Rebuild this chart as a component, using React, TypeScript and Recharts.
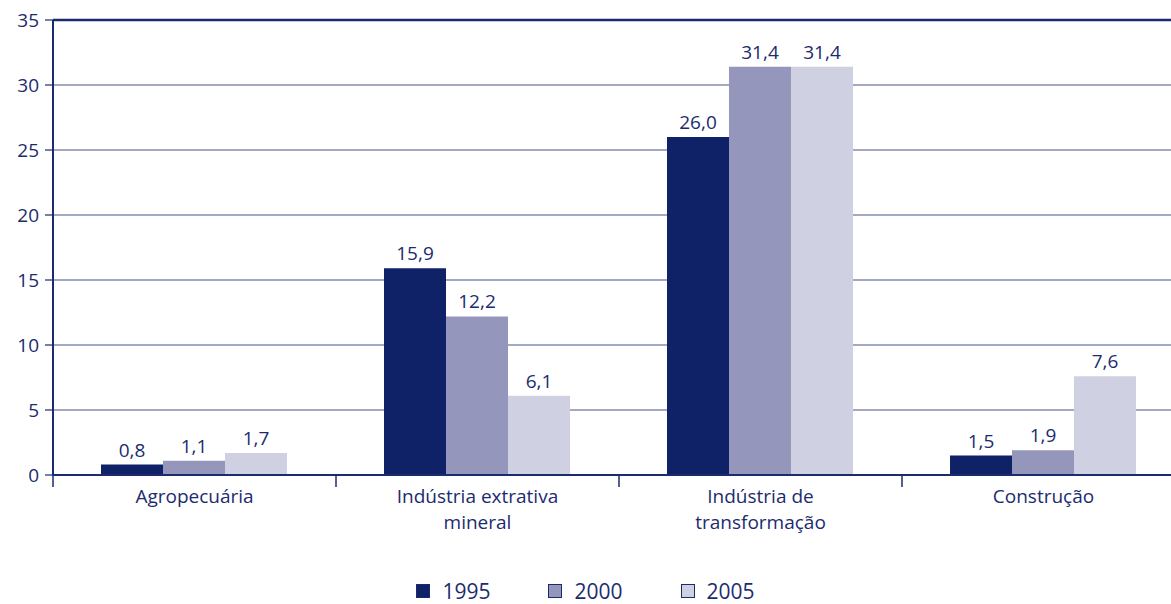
import React from 'react';
import { BarChart, Bar, XAxis, YAxis, CartesianGrid, Legend, LabelList, ReferenceLine } from 'recharts';

const categories = ['Agropecuária', 'Indústria extrativa\nmineral', 'Indústria de\ntransformação', 'Construção'];
const values1995 = [0.8, 15.9, 26.0, 1.5];
const values2000 = [1.1, 12.2, 31.4, 1.9];
const values2005 = [1.7, 6.1, 31.4, 7.6];
const yTicks = [0, 5, 10, 15, 20, 25, 30, 35];

const seriesNames = ['1995', '2000', '2005'];
const seriesColors = ['#0f2167', '#9497bb', '#cfd0e2'];

const chartData = categories.map((name, i) => ({
  name,
  y1995: values1995[i],
  y2000: values2000[i],
  y2005: values2005[i],
}));

const navy = '#1c2b6e';
const font = '"Open Sans", sans-serif';
const fmt = (v: any) => Number(v).toFixed(1).replace('.', ',');

const CategoryTick = (props: any) => {
  const { x, y, payload, index } = props;
  const lines = String(payload.value).split('\n');
  const half = 141.5;
  return (
    <g>
      <line x1={x - half} y1={y - 8} x2={x - half} y2={y + 4} stroke={navy} strokeWidth={1.5} />
      {index === categories.length - 1 && (
        <line x1={x + half} y1={y - 8} x2={x + half} y2={y + 4} stroke={navy} strokeWidth={1.5} />
      )}
      <text x={x} y={y + 20} textAnchor="middle" fill={navy} fontSize={19} fontFamily={font}>
        {lines.map((l, k) => (
          <tspan key={k} x={x} dy={k === 0 ? 0 : 26}>{l}</tspan>
        ))}
      </text>
    </g>
  );
};

const LegendContent = () => (
  <div style={{ display: 'flex', justifyContent: 'center', paddingTop: 44, width: 1171 }}>
    {seriesNames.map((n, i) => (
      <div key={n} style={{ display: 'flex', alignItems: 'center', marginRight: i < 2 ? 58 : 0 }}>
        <span style={{ width: 12, height: 12, background: seriesColors[i], border: `1px solid ${navy}`, display: 'inline-block', marginRight: 12 }} />
        <span style={{ color: navy, fontSize: 21, fontFamily: font, lineHeight: '24px' }}>{n}</span>
      </div>
    ))}
  </div>
);

const App: React.FC = () => {
  return (
    <div style={{ position: 'absolute', left: 0, top: 0, width: 1171, height: 604, overflow: 'hidden', background: '#fff' }}>
      <BarChart width={1200} height={604} data={chartData} margin={{ top: 20, right: 15, left: 0, bottom: 0 }} barCategoryGap={48} barGap={0}>
        <CartesianGrid vertical={false} stroke="#485288" strokeWidth={1.2} />
        <XAxis
          dataKey="name"
          height={60}
          tick={<CategoryTick />}
          tickLine={false}
          axisLine={{ stroke: navy, strokeWidth: 2 }}
          interval={0}
        />
        <YAxis
          width={53}
          domain={[0, 35]}
          ticks={yTicks}
          tickSize={8}
          tickMargin={6}
          tickLine={{ stroke: navy, strokeWidth: 1.2 }}
          axisLine={{ stroke: navy, strokeWidth: 2 }}
          tick={{ fill: navy, fontSize: 19, fontFamily: font }}
          interval={0}
        />
        <ReferenceLine y={35} stroke={navy} strokeWidth={2.5} />
        <Legend height={69} content={<LegendContent />} />
        <Bar dataKey="y1995" name="1995" fill={seriesColors[0]} isAnimationActive={false}>
          <LabelList dataKey="y1995" position="top" offset={8} formatter={fmt} fill={navy} fontSize={19} fontFamily={font} />
        </Bar>
        <Bar dataKey="y2000" name="2000" fill={seriesColors[1]} isAnimationActive={false}>
          <LabelList dataKey="y2000" position="top" offset={8} formatter={fmt} fill={navy} fontSize={19} fontFamily={font} />
        </Bar>
        <Bar dataKey="y2005" name="2005" fill={seriesColors[2]} isAnimationActive={false}>
          <LabelList dataKey="y2005" position="top" offset={8} formatter={fmt} fill={navy} fontSize={19} fontFamily={font} />
        </Bar>
      </BarChart>
    </div>
  );
};

export default App;
